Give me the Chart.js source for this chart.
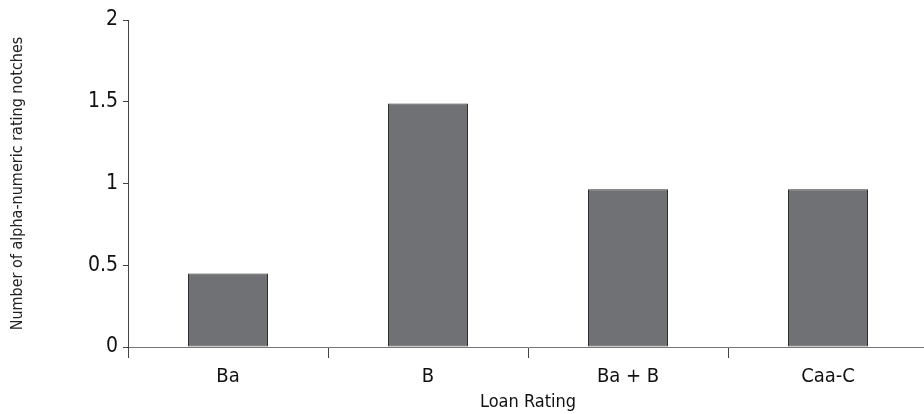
<!DOCTYPE html>
<html>
<head>
<meta charset="utf-8">
<script src="https://cdn.jsdelivr.net/npm/chart.js@4/dist/chart.umd.min.js"></script>
<style>
    html, body { margin: 0; padding: 0; background: #ffffff; overflow: hidden; }
    #wrap { width: 928px; height: 414px; }
</style>
</head>
<body>
<div id="wrap"><canvas id="notchChart" width="928" height="414"></canvas></div>
<script>
// Chart data
const ratings = ['Ba', 'B', 'Ba + B', 'Caa-C'];
const notches = [0.45, 1.49, 0.965, 0.965];
const yTicks = [0, 0.5, 1, 1.5, 2];

const FONT = "'Liberation Sans Narrow', 'DejaVu Sans Condensed', sans-serif";

document.addEventListener('DOMContentLoaded', () => {
    initNotchChart();
});

// Bar chart of rating notches by loan rating
function initNotchChart() {
    const ctx = document.getElementById('notchChart').getContext('2d');

    new Chart(ctx, {
        type: 'bar',
        data: {
            labels: ratings,
            datasets: [{
                data: notches,
                backgroundColor: '#707174',
                borderColor: '#2e2e2e',
                borderWidth: 1,
                borderSkipped: false,
                barPercentage: 0.4,
                categoryPercentage: 1
            }]
        },
        options: {
            responsive: false,
            animation: false,
            layout: { padding: { top: 20, right: 0, bottom: 0, left: 0 } },
            plugins: {
                legend: { display: false },
                tooltip: { enabled: false }
            },
            scales: {
                x: {
                    grid: {
                        drawOnChartArea: false,
                        drawTicks: true,
                        tickLength: 11,
                        color: '#444444',
                        offset: true
                    },
                    border: { display: true, color: '#777777', width: 1 },
                    ticks: {
                        color: '#111111',
                        padding: 7,
                        font: { family: FONT, size: 20 }
                    },
                    title: {
                        display: true,
                        text: 'Loan Rating',
                        color: '#111111',
                        padding: { top: 0, bottom: 1 },
                        font: { family: FONT, size: 18 }
                    },
                    afterFit: (scale) => { scale.height = 67; }
                },
                y: {
                    min: 0,
                    max: 2,
                    afterBuildTicks: (scale) => {
                        scale.ticks = yTicks.map(v => ({ value: v }));
                    },
                    grid: {
                        drawOnChartArea: false,
                        drawTicks: true,
                        tickLength: 5,
                        color: '#444444'
                    },
                    border: { display: true, color: '#444444', width: 1 },
                    ticks: {
                        color: '#111111',
                        padding: 5,
                        font: { family: FONT, size: 21 },
                        callback: (value) => String(value)
                    },
                    title: {
                        display: true,
                        text: 'Number of alpha-numeric rating notches',
                        color: '#222222',
                        padding: { top: 8, bottom: 0 },
                        font: { family: FONT, size: 16 }
                    },
                    afterFit: (scale) => { scale.width = 128; }
                }
            }
        }
    });
}
</script>
</body>
</html>
